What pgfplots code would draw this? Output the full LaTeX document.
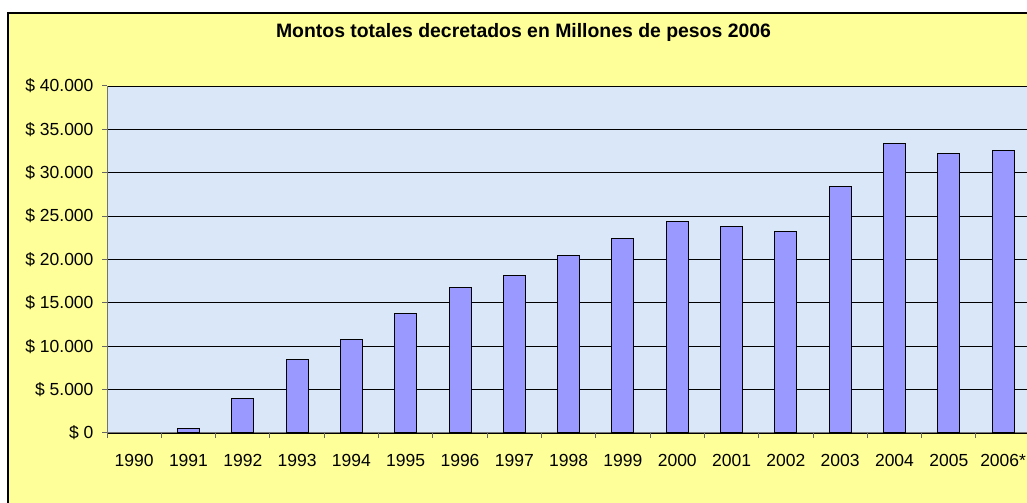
\documentclass[border=0pt]{standalone}
\usepackage{pgfplots}
\pgfplotsset{compat=1.18}
\usepackage{fontspec}
\setmainfont{Liberation Sans}
\definecolor{chartyellow}{RGB}{255,255,153}
\definecolor{plotblue}{RGB}{218,231,248}
\definecolor{barblue}{RGB}{153,153,255}
\begin{document}
\begin{tikzpicture}[x=1bp,y=1bp]
\clip (0,0) rectangle (1027,503);
\fill[white] (0,0) rectangle (1027,503);
\fill[chartyellow] (8,-10) rectangle (1040,490);
\draw[line width=1.5bp] (8,-10) -- (8,490) -- (1040,490);
\node[anchor=base, inner sep=0pt, font=\fontsize{19.4bp}{22bp}\selectfont\bfseries] at (523.5,465) {Montos totales decretados en Millones de pesos 2006};
\begin{axis}[
  at={(107bp,70bp)}, anchor=south west,
  scale only axis, width=920bp, height=347bp,
  xmin=-0.5, xmax=16.44, ymin=0, ymax=40000,
  scaled y ticks=false,
  axis background/.style={fill=plotblue},
  ybar, bar width=22bp,
  axis x line*=bottom, axis y line*=left,
  axis line style={draw=black!55, line width=1bp},
  ytick={0,5000,10000,15000,20000,25000,30000,35000,40000},
  yticklabels={\$ 0,\$ 5.000,\$ 10.000,\$ 15.000,\$ 20.000,\$ 25.000,\$ 30.000,\$ 35.000,\$ 40.000},
  ymajorgrids, grid style={draw=black, line width=0.9bp},
  xtick={0,...,16},
  xticklabels={1990,1991,1992,1993,1994,1995,1996,1997,1998,1999,2000,2001,2002,2003,2004,2005,2006*},
  minor xtick={-0.5,0.5,...,15.5},
  major x tick style={draw=none},
  tick align=outside,
  major tick length=5bp, minor tick length=5bp,
  tick style={draw=black!60, line width=1bp},
  tick label style={font=\fontsize{17.5bp}{20bp}\selectfont},
  xticklabel style={yshift=-13bp},
  yticklabel style={xshift=-5bp},
]
\addplot[fill=barblue, draw=black, line width=1bp] coordinates {
 (1,550) (2,3970) (3,8500) (4,10770) (5,13770) (6,16720) (7,18150) (8,20420)
 (9,22380) (10,24340) (11,23800) (12,23220) (13,28400) (14,33400) (15,32200) (16,32600)
};
\end{axis}
\end{tikzpicture}
\end{document}
